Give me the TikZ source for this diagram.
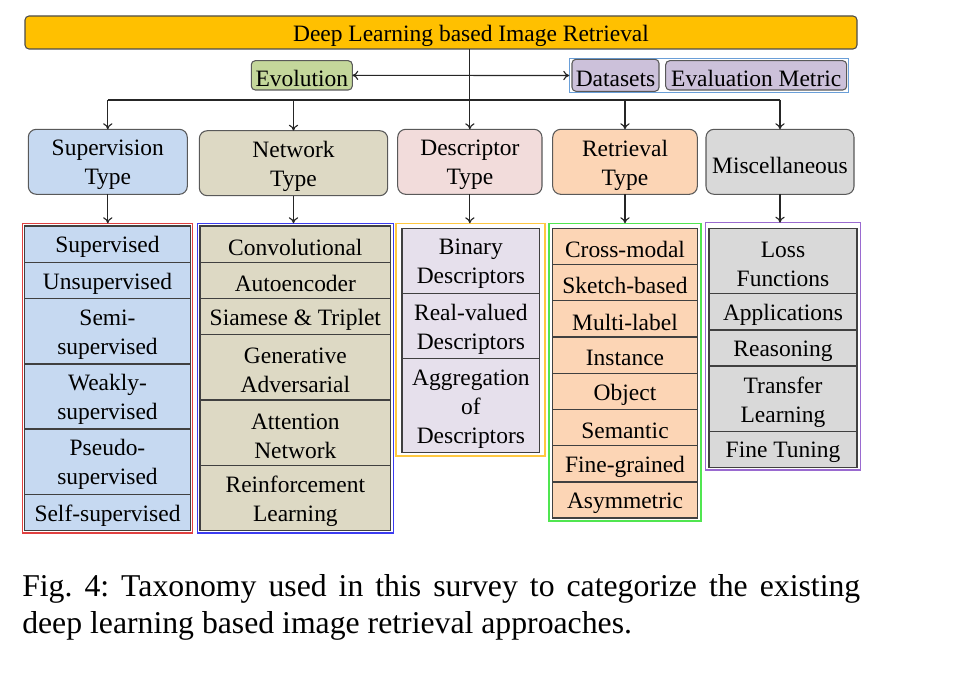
\documentclass[tikz,border=0pt]{standalone}
\usepackage{fontspec}
\setmainfont{Liberation Serif}
\usetikzlibrary{arrows.meta}
\definecolor{cOrange}{HTML}{FFC000}
\definecolor{cEvo}{HTML}{C4D79B}
\definecolor{cLav}{HTML}{CCC1DA}
\definecolor{cSup}{HTML}{C6D9F1}
\definecolor{cNet}{HTML}{DDD9C4}
\definecolor{cDesc}{HTML}{F2DCDB}
\definecolor{cDescCell}{HTML}{E6E0EC}
\definecolor{cRet}{HTML}{FCD5B5}
\definecolor{cMisc}{HTML}{D9D9D9}
\definecolor{gRed}{HTML}{E04040}
\definecolor{gBlue}{HTML}{3C3CF0}
\definecolor{gYellow}{HTML}{FFC840}
\definecolor{gGreen}{HTML}{50E650}
\definecolor{gPurple}{HTML}{9A6AD0}
\definecolor{gSky}{HTML}{6A9FD8}
\frenchspacing
% name x1 y1 x2 y2 style text
\newcommand\cellbox[7]{\node[#6, minimum width={(#4-#2)*0.75pt}, minimum height={(#5-#3)*0.75pt}, label={[txt]center:{#7}}] (#1) at ({(#2+#4)/2},{(#3+#5)/2}) {};}
\begin{document}
\begin{tikzpicture}[x=0.75pt,y=-0.75pt,
  bx/.style={inner sep=0pt, outer sep=0pt},
  txt/.style={inner sep=0pt, outer sep=0pt, align=center, yshift=-2.4pt, font=\rmfamily\fontsize{17.6}{21.75}\selectfont, text=black},
  topbox/.style={bx, fill=cOrange, draw=black!70, rounded corners=3pt, line width=0.8pt},
  smallbox/.style={bx, draw=black!65, rounded corners=3pt, line width=0.8pt},
  catbox/.style={bx, draw=black!65, rounded corners=6pt, line width=0.8pt},
  cellst/.style={bx, draw=black!75, line width=1pt},
  grp/.style={bx, line width=1pt},
  conn/.style={-{To[length=4.5pt,width=7pt]}, line width=0.85pt, black!85},
  dconn/.style={{To[length=4.5pt,width=7pt]}-{To[length=4.5pt,width=7pt]}, line width=0.85pt, black!85}]
\useasboundingbox (0,0) rectangle (960,674);
% top
\cellbox{top}{25}{16}{857}{49}{topbox}{\hspace*{45pt}Deep Learning based Image Retrieval}
\cellbox{evo}{251.3}{60.7}{352.3}{90}{smallbox, fill=cEvo}{Evolution}
\cellbox{dsgrp}{569.3}{58.7}{848.7}{92.3}{grp, draw=gSky}{}
\cellbox{ds}{572}{59.3}{659}{91.3}{smallbox, fill=cLav}{Datasets}
\cellbox{em}{665.7}{60.7}{846.7}{90}{smallbox, fill=cLav}{Evaluation Metric}
% categories
\cellbox{csup}{28.3}{129.3}{187.3}{194.3}{catbox, fill=cSup}{Supervision\\Type}
\cellbox{cnet}{199.3}{130.7}{387.7}{195.7}{catbox, fill=cNet}{Network\\Type}
\cellbox{cdesc}{397.7}{129.3}{542}{194.3}{catbox, fill=cDesc}{Descriptor\\Type}
\cellbox{cret}{552.7}{129.3}{697.3}{194.3}{catbox, fill=cRet}{Retrieval\\Type}
\cellbox{cmisc}{706}{129.3}{854}{194.3}{catbox, fill=cMisc}{Miscellaneous}
% connectors at top
\coordinate (bus) at (0,100);
\draw[dconn] (evo.east) -- (dsgrp.west);
\draw[conn] (cdesc.north |- top.south) -- (cdesc.north);
\draw[line width=0.85pt, black!85] (csup.north |- bus) -- (cmisc.north |- bus);
\draw[conn] (csup.north |- bus) -- (csup.north);
\draw[conn] (cnet.north |- bus) -- (cnet.north);
\draw[conn] (cret.north |- bus) -- (cret.north);
\draw[conn] (cmisc.north |- bus) -- (cmisc.north);
% group frames
\cellbox{gsup}{22.3}{223.3}{192.7}{533}{grp, draw=gRed}{}
\cellbox{gnet}{197.3}{223.3}{393.3}{533}{grp, draw=gBlue}{}
\cellbox{gdesc}{396}{223.3}{545}{456}{grp, draw=gYellow}{}
\cellbox{gret}{549}{223.3}{701}{521}{grp, draw=gGreen}{}
\cellbox{gmisc}{705.7}{222.7}{860.7}{470}{grp, draw=gPurple}{}
\draw[conn] (csup.south) -- (csup.south |- gsup.north);
\draw[conn] (cnet.south) -- (cnet.south |- gnet.north);
\draw[conn] (cdesc.south) -- (cdesc.south |- gdesc.north);
\draw[conn] (cret.south) -- (cret.south |- gret.north);
\draw[conn] (cmisc.south) -- (cmisc.south |- gmisc.north);
% supervision cells
\cellbox{s1}{24.7}{226}{190.3}{262.3}{cellst, fill=cSup}{Supervised}
\cellbox{s2}{24.7}{262.3}{190.3}{298.3}{cellst, fill=cSup}{Unsupervised}
\cellbox{s3}{24.7}{298.3}{190.3}{364}{cellst, fill=cSup}{Semi-\\supervised}
\cellbox{s4}{24.7}{364}{190.3}{429}{cellst, fill=cSup}{Weakly-\\supervised}
\cellbox{s5}{24.7}{429}{190.3}{494.3}{cellst, fill=cSup}{Pseudo-\\supervised}
\cellbox{s6}{24.7}{494.3}{190.3}{530.5}{cellst, fill=cSup}{Self-supervised}
% network cells
\cellbox{n1}{200}{226}{390.7}{262.3}{cellst, fill=cNet}{Convolutional}
\cellbox{n2}{200}{262.3}{390.7}{298.3}{cellst, fill=cNet}{Autoencoder}
\cellbox{n3}{200}{298.3}{390.7}{334.7}{cellst, fill=cNet}{Siamese \& Triplet}
\cellbox{n4}{200}{334.7}{390.7}{400}{cellst, fill=cNet}{Generative\\Adversarial}
\cellbox{n5}{200}{400}{390.7}{465.3}{cellst, fill=cNet}{Attention\\Network}
\cellbox{n6}{200}{465.3}{390.7}{530.5}{cellst, fill=cNet}{Reinforcement\\Learning}
% descriptor cells
\cellbox{d1}{402}{228.7}{539.7}{293.3}{cellst, fill=cDescCell}{Binary\\Descriptors}
\cellbox{d2}{402}{293.3}{539.7}{358.7}{cellst, fill=cDescCell}{Real-valued\\Descriptors}
\cellbox{d3}{402}{358.7}{539.7}{452.7}{cellst, fill=cDescCell}{Aggregation\\of\\Descriptors}
% retrieval cells
\cellbox{r1}{552.7}{228.7}{697.3}{264.7}{cellst, fill=cRet}{Cross-modal}
\cellbox{r2}{552.7}{264.7}{697.3}{300.7}{cellst, fill=cRet}{Sketch-based}
\cellbox{r3}{552.7}{300.7}{697.3}{337}{cellst, fill=cRet}{Multi-label}
\cellbox{r4}{552.7}{337}{697.3}{373.3}{cellst, fill=cRet}{Instance}
\cellbox{r5}{552.7}{373.3}{697.3}{409.7}{cellst, fill=cRet}{Object}
\cellbox{r6}{552.7}{409.7}{697.3}{445.7}{cellst, fill=cRet}{Semantic}
\cellbox{r7}{552.7}{445.7}{697.3}{482}{cellst, fill=cRet}{Fine-grained}
\cellbox{r8}{552.7}{482}{697.3}{518}{cellst, fill=cRet}{Asymmetric}
% misc cells
\cellbox{m1}{709}{228.7}{857}{293.3}{cellst, fill=cMisc}{Loss\\Functions}
\cellbox{m2}{709}{293.3}{857}{330}{cellst, fill=cMisc}{Applications}
\cellbox{m3}{709}{330}{857}{366}{cellst, fill=cMisc}{Reasoning}
\cellbox{m4}{709}{366}{857}{431.3}{cellst, fill=cMisc}{Transfer\\Learning}
\cellbox{m5}{709}{431.3}{857}{467.3}{cellst, fill=cMisc}{Fine Tuning}
% caption
\node[inner sep=0pt, anchor=base west, font=\rmfamily\fontsize{23.8}{30}\selectfont] (cap1) at (22,596)
  {\makebox[628.5pt][s]{Fig. 4: Taxonomy used in this survey to categorize the existing}};
\node[inner sep=0pt, anchor=base west, font=\rmfamily\fontsize{23.8}{30}\selectfont] (cap2) at (22,633.3)
  {deep learning based image retrieval approaches.};
\end{tikzpicture}
\end{document}
